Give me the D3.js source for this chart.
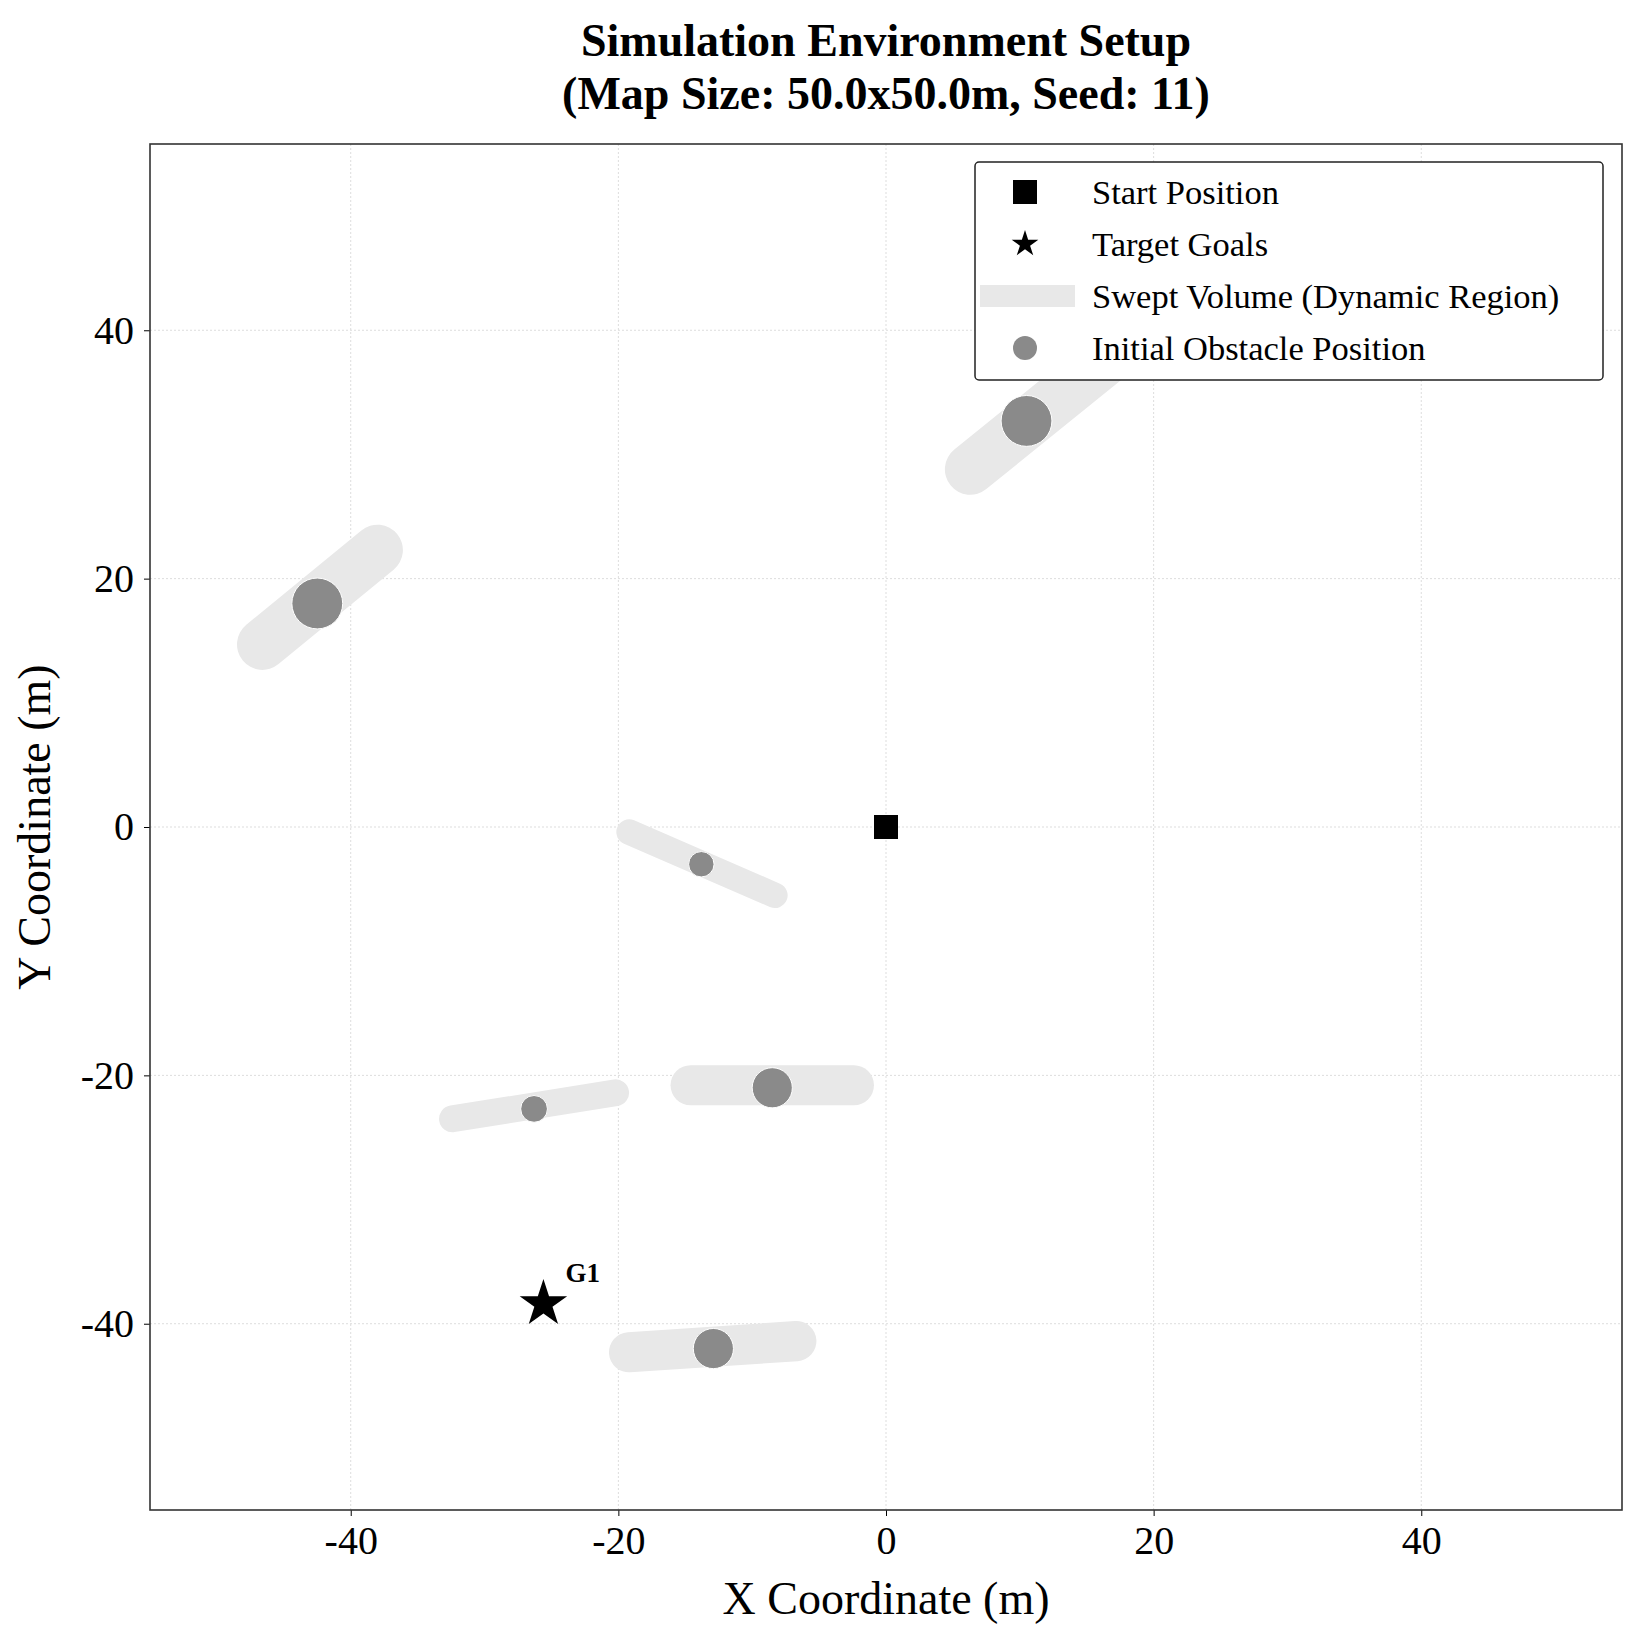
<!DOCTYPE html>
<html><head><meta charset="utf-8">
<script src="https://cdn.jsdelivr.net/npm/d3@7"></script>
<style>body{margin:0;background:#fff}text{font-family:"Liberation Serif","DejaVu Serif",serif}</style>
</head><body><svg id="chart"></svg>
<script>
// obstacle data: initial position, swept segment ends, radius (m)
const obsX = [10.5, -42.5, -13.8, -8.5, -26.3, -12.9];
const obsY = [32.7, 18.0, -3.0, -21.0, -22.7, -42.0];
const sweepStart = [[6.3, 28.8], [-46.6, 14.7], [-19.2, -0.4], [-14.6, -20.8], [-32.4, -23.5], [-19.2, -42.3]];
const sweepEnd = [[18.0, 39.0], [-38.0, 22.3], [-8.3, -5.5], [-2.4, -20.8], [-20.2, -21.4], [-6.7, -41.4]];
const obsR = [1.9, 1.9, 0.95, 1.5, 1.0, 1.5];
const startPos = [0, 0];
const goals = [{name: 'G1', x: -25.6, y: -38.4}];
const ticks = [-40, -20, 0, 20, 40];
const legendItems = ['Start Position', 'Target Goals', 'Swept Volume (Dynamic Region)', 'Initial Obstacle Position'];

const W = 1642, H = 1637;
const margin = {top: 144, right: 20, bottom: 127, left: 150};
const width = W - margin.left - margin.right;
const height = H - margin.top - margin.bottom;

const root = d3.select('#chart').attr('width', W).attr('height', H);
const svg = root.append('g').attr('transform', 'translate(' + margin.left + ',' + margin.top + ')');

const x = d3.scaleLinear().domain([-55, 55]).range([0, width]);
const y = d3.scaleLinear().domain([-55, 55]).range([height, 0]);

// grid
svg.append('g').selectAll('line').data(ticks).enter().append('line')
  .attr('x1', d => x(d)).attr('x2', d => x(d)).attr('y1', 0).attr('y2', height)
  .attr('stroke', '#ddd').attr('stroke-dasharray', '2,2');
svg.append('g').selectAll('line').data(ticks).enter().append('line')
  .attr('y1', d => y(d)).attr('y2', d => y(d)).attr('x1', 0).attr('x2', width)
  .attr('stroke', '#ddd').attr('stroke-dasharray', '2,2');

// swept volumes
const ux = x(1) - x(0);
svg.append('g').selectAll('line').data(sweepStart).enter().append('line')
  .attr('x1', d => x(d[0])).attr('y1', d => y(d[1]))
  .attr('x2', (d, i) => x(sweepEnd[i][0])).attr('y2', (d, i) => y(sweepEnd[i][1]))
  .attr('stroke', '#e8e8e8').attr('stroke-linecap', 'round')
  .attr('stroke-width', (d, i) => obsR[i] * 2 * ux);

// obstacles
svg.append('g').selectAll('circle').data(obsX).enter().append('circle')
  .attr('cx', d => x(d)).attr('cy', (d, i) => y(obsY[i]))
  .attr('r', (d, i) => obsR[i] * ux)
  .attr('fill', '#8a8a8a').attr('stroke', '#fff').attr('stroke-width', 1);

// start
svg.append('rect').attr('x', x(startPos[0]) - 12).attr('y', y(startPos[1]) - 12)
  .attr('width', 24).attr('height', 24).attr('fill', '#000');

// goals
const star = d3.symbol().type(d3.symbolStar).size(700);
svg.selectAll('.goal').data(goals).enter().append('path')
  .attr('transform', d => 'translate(' + x(d.x) + ',' + y(d.y) + ')')
  .attr('d', star).attr('fill', '#000');
svg.selectAll('.glabel').data(goals).enter().append('text')
  .attr('x', d => x(d.x) + 22).attr('y', d => y(d.y) - 22)
  .style('font-size', '27px').style('font-weight', 'bold').text(d => d.name);

// axes
const fmt = d => String(d);
const xAxis = svg.append('g').attr('transform', 'translate(0,' + height + ')')
  .call(d3.axisBottom(x).tickValues(ticks).tickFormat(fmt).tickSize(6).tickPadding(10));
const yAxis = svg.append('g').call(d3.axisLeft(y).tickValues(ticks).tickFormat(fmt).tickSize(6).tickPadding(10));
[xAxis, yAxis].forEach(a => {
  a.selectAll('text').style('font-size', '40px').attr('fill', '#000').style('font-family', '"Liberation Serif",serif');
  a.select('.domain').remove();
});
svg.append('rect').attr('width', width).attr('height', height)
  .attr('fill', 'none').attr('stroke', '#333').attr('stroke-width', 1.6);

// legend
const lg = svg.append('g').attr('transform', 'translate(' + (975 - margin.left) + ',' + (162 - margin.top) + ')');
lg.append('rect').attr('width', 628).attr('height', 218).attr('rx', 4)
  .attr('fill', '#fff').attr('stroke', '#222').attr('stroke-width', 1.5);
legendItems.forEach((t, i) => {
  const cy = 30 + i * 52;
  lg.append('text').attr('x', 117).attr('y', cy).attr('dy', '0.35em').style('font-size', '34.5px').text(t);
  if (i === 0) lg.append('rect').attr('x', 38).attr('y', cy - 12).attr('width', 24).attr('height', 24);
  if (i === 1) lg.append('path').attr('transform', 'translate(50,' + cy + ')').attr('d', d3.symbol().type(d3.symbolStar).size(220));
  if (i === 2) lg.append('rect').attr('x', 5).attr('y', cy - 11).attr('width', 95).attr('height', 22).attr('fill', '#e8e8e8');
  if (i === 3) lg.append('circle').attr('cx', 50).attr('cy', cy).attr('r', 12).attr('fill', '#8a8a8a');
});

// titles
root.append('text').attr('x', margin.left + width / 2).attr('y', 56).attr('text-anchor', 'middle')
  .style('font-size', '46px').style('font-weight', 'bold').text('Simulation Environment Setup');
root.append('text').attr('x', margin.left + width / 2).attr('y', 109).attr('text-anchor', 'middle')
  .style('font-size', '46px').style('font-weight', 'bold').text('(Map Size: 50.0x50.0m, Seed: 11)');
root.append('text').attr('x', margin.left + width / 2).attr('y', 1614).attr('text-anchor', 'middle')
  .style('font-size', '46px').text('X Coordinate (m)');
root.append('text').attr('transform', 'translate(50,' + (margin.top + height / 2) + ') rotate(-90)')
  .attr('text-anchor', 'middle').style('font-size', '46px').text('Y Coordinate (m)');
</script></body></html>
